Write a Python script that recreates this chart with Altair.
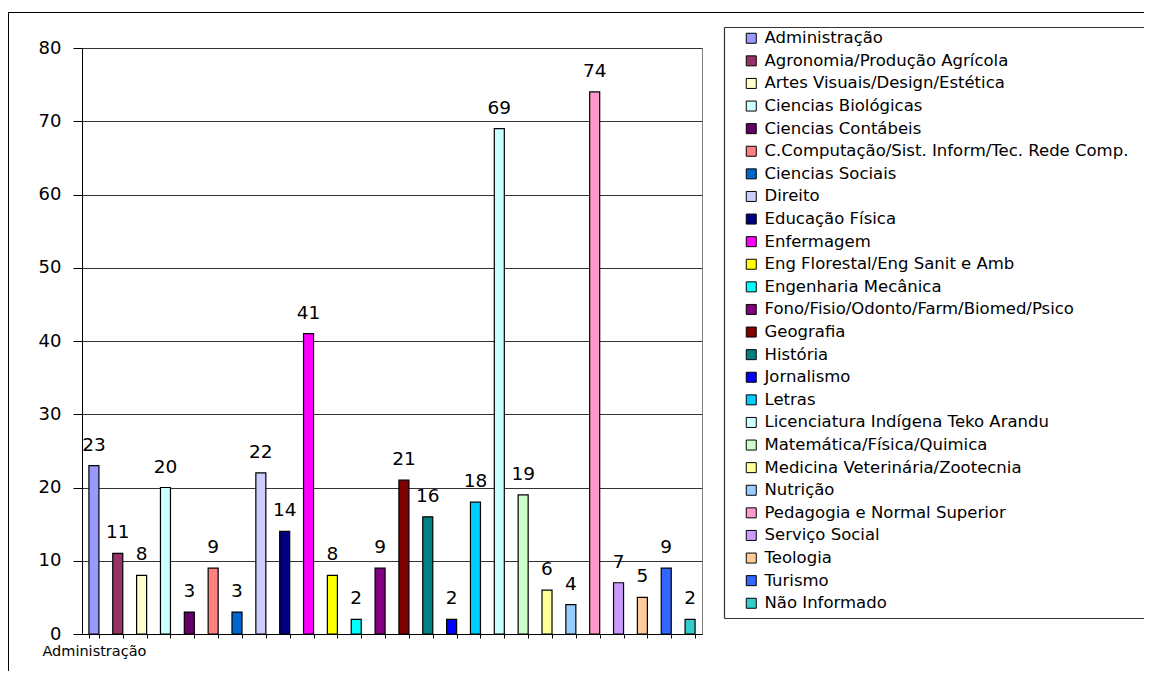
import altair as alt
import pandas as pd

categories = [
    "Administração", "Agronomia/Produção Agrícola", "Artes Visuais/Design/Estética",
    "Ciencias Biológicas", "Ciencias Contábeis", "C.Computação/Sist. Inform/Tec. Rede Comp.",
    "Ciencias Sociais", "Direito", "Educação Física", "Enfermagem",
    "Eng Florestal/Eng Sanit e Amb", "Engenharia Mecânica",
    "Fono/Fisio/Odonto/Farm/Biomed/Psico", "Geografia", "História", "Jornalismo",
    "Letras", "Licenciatura Indígena Teko Arandu", "Matemática/Física/Quimica",
    "Medicina Veterinária/Zootecnia", "Nutrição", "Pedagogia e Normal Superior",
    "Serviço Social", "Teologia", "Turismo", "Não Informado",
]
values = [23, 11, 8, 20, 3, 9, 3, 22, 14, 41, 8, 2, 9, 21, 16, 2, 18, 69, 19, 6, 4, 74, 7, 5, 9, 2]
colors = [
    "#9999FF", "#993366", "#FFFFCC", "#CCFFFF", "#660066", "#FF8080", "#0066CC",
    "#CCCCFF", "#000080", "#FF00FF", "#FFFF00", "#00FFFF", "#800080", "#800000",
    "#008080", "#0000FF", "#00CCFF", "#CCFFFF", "#CCFFCC", "#FFFF99", "#99CCFF",
    "#FF99CC", "#CC99FF", "#FFCC99", "#3366FF", "#33CCCC",
]
y_ticks = [0, 10, 20, 30, 40, 50, 60, 70, 80]

df = pd.DataFrame({"curso": categories, "n": values})
FONT = "DejaVu Sans"
EDGE = 1062  # right edge of the drawing, relative to the plot origin

x_enc = alt.X(
    "curso:N",
    sort=categories,
    scale=alt.Scale(paddingInner=0.58, paddingOuter=0.29),
    axis=alt.Axis(
        title=None,
        labelExpr="datum.value == 'Administração' ? datum.label : ''",
        labelAngle=0,
        labelOverlap=False,
        tickBand="extent",
        tickSize=4,
        tickColor="black",
        domainColor="black",
        labelFontSize=14.5,
        labelFont=FONT,
        labelColor="black",
        labelPadding=6,
        grid=False,
    ),
)
y_enc = alt.Y(
    "n:Q",
    scale=alt.Scale(domain=[0, 80]),
    axis=alt.Axis(
        title=None,
        values=y_ticks,
        tickSize=9,
        tickColor="black",
        domainColor="black",
        labelPadding=12,
        labelFontSize=18,
        labelFont=FONT,
        labelColor="black",
        grid=True,
        gridColor="#333333",
    ),
)

frame_src = alt.Data(values=[{"a": 1}])
frame_top = alt.Chart(frame_src).mark_rule(color="black", strokeWidth=1).encode(
    x=alt.value(-74), x2=alt.value(EDGE), y=alt.value(-35.5)
)
frame_left = alt.Chart(frame_src).mark_rule(color="black", strokeWidth=1).encode(
    x=alt.value(-73.5), y=alt.value(-36), y2=alt.value(623)
)
leg_top = alt.Chart(frame_src).mark_rule(color="#333333", strokeWidth=1.2).encode(
    x=alt.value(642.5), x2=alt.value(EDGE), y=alt.value(-20.5)
)
leg_bottom = alt.Chart(frame_src).mark_rule(color="#333333", strokeWidth=1.2).encode(
    x=alt.value(642.5), x2=alt.value(EDGE), y=alt.value(570.5)
)
leg_left = alt.Chart(frame_src).mark_rule(color="#333333", strokeWidth=1.2).encode(
    x=alt.value(642.5), y=alt.value(-20.5), y2=alt.value(570.5)
)

bars = alt.Chart(df).mark_bar(stroke="black", strokeWidth=1.2).encode(
    x=x_enc,
    y=y_enc,
    color=alt.Color(
        "curso:N",
        sort=categories,
        scale=alt.Scale(domain=categories, range=colors),
        legend=alt.Legend(
            title=None,
            orient="none",
            legendX=643,
            legendY=-20,
            direction="vertical",
            padding=2,
            symbolType="square",
            symbolSize=100,
            symbolStrokeColor="black",
            symbolStrokeWidth=1,
            symbolOffset=16,
            labelFontSize=16.5,
            labelFont=FONT,
            labelColor="black",
            labelOffset=5,
            labelLimit=600,
            rowPadding=5.6,
        ),
    ),
)

labels = alt.Chart(df).mark_text(
    dy=-15, baseline="alphabetic", fontSize=18.5, font=FONT, color="black"
).encode(
    x=alt.X("curso:N", sort=categories),
    y=alt.Y("n:Q"),
    text=alt.Text("n:Q"),
)

chart = alt.layer(frame_top, frame_left, leg_top, leg_bottom, leg_left, bars, labels).properties(
    width=620,
    height=586,
    autosize=alt.AutoSizeParams(type="none"),
    padding={"left": 74, "top": 40, "right": 442, "bottom": 37},
    background="white",
).configure_view(stroke="#808080")

chart.save("out.html", embed_options={"renderer": "svg", "actions": False})
